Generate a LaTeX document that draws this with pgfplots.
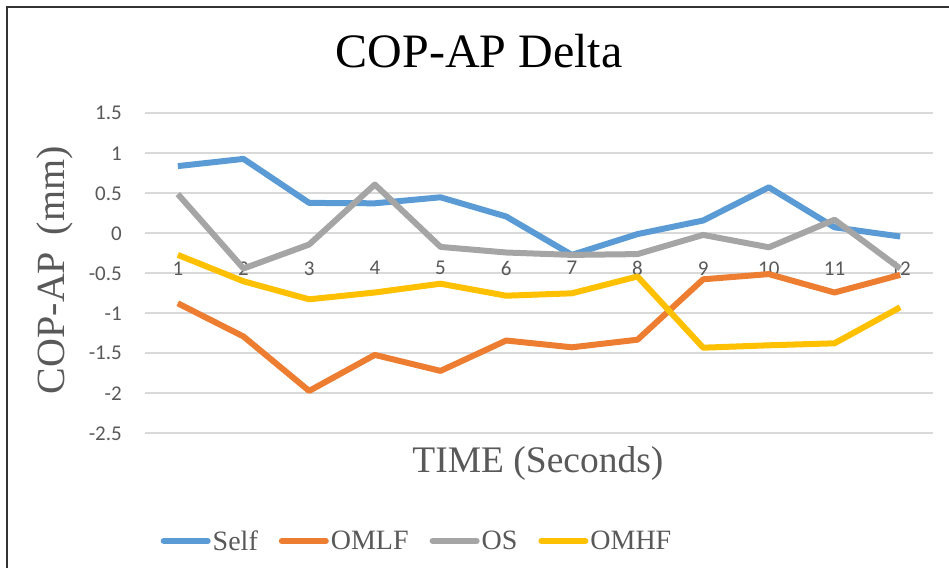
\documentclass[border=0pt]{standalone}
\usepackage{fontspec}
\setmainfont{Liberation Serif}
\newfontfamily\calib{Carlito}
\usepackage{pgfplots}
\pgfplotsset{compat=1.18}
\definecolor{cself}{HTML}{5B9BD5}
\definecolor{comlf}{HTML}{ED7D31}
\definecolor{cos}{HTML}{A5A5A5}
\definecolor{comhf}{HTML}{FFC000}
\definecolor{gridc}{HTML}{D9D9D9}
\definecolor{txt}{HTML}{595959}
\begin{document}
\begin{tikzpicture}
\path[use as bounding box] (0,0) rectangle (949pt,568pt);
\draw[black!80, line width=1.5pt] (7pt,0pt) -- (7pt,561pt) -- (949pt,561pt);
\begin{axis}[
  at={(145pt,134.7pt)}, anchor=south west,
  scale only axis, width=788pt, height=320pt,
  xmin=0.5, xmax=12.5, ymin=-2.5, ymax=1.5,
  enlargelimits=false,
  axis x line=middle, axis y line=left,
  x axis line style={draw=gridc, line width=1.8pt, -},
  y axis line style={draw=none},
  major tick length=0pt,
  xtick={1,...,12},
  ytick={-2.5,-2,-1.5,-1,-0.5,0,0.5,1,1.5},
  ymajorgrids, grid style={gridc, line width=1.8pt},
  /pgf/number format/assume math mode=true,
  yticklabel style={font=\calib\fontsize{21}{24}\selectfont, text=txt, inner sep=0pt, anchor=east, xshift=-23pt},
  xticklabel style={font=\calib\fontsize{21}{24}\selectfont, text=txt, inner sep=0pt, anchor=north, yshift=-28pt},
  title={COP-AP Delta},
  title style={at={(axis description cs:0.4239,1.176)}, anchor=center, font=\fontsize{48}{52}\selectfont, text=black},
  xlabel={TIME (Seconds)},
  xlabel style={at={(axis description cs:0.4987,-0.093)}, anchor=center, font=\fontsize{37.5}{42}\selectfont, text=txt},
  ylabel={COP-AP\, (mm)},
  ylabel style={at={(axis description cs:-0.114,0.51)}, anchor=center, rotate=0, font=\fontsize{40}{44}\selectfont, text=txt},
  legend columns=4,
  legend style={at={(axis description cs:0.3452,-0.3366)}, anchor=center, draw=none, fill=none,
    font=\fontsize{28}{32}\selectfont, text=txt,
    /tikz/every even column/.append style={column sep=19pt}},
  legend image code/.code={\draw[#1, line width=6pt, line cap=round] (0pt,0pt) -- (44pt,0pt);},
]
\addplot[cself, line width=6pt, line join=round, no markers] coordinates {(1,0.84) (2,0.93) (3,0.38) (4,0.375) (5,0.45) (6,0.21) (7,-0.27) (8,-0.01) (9,0.16) (10,0.575) (11,0.075) (12,-0.04)};
\addlegendentry{Self}
\addplot[comlf, line width=6pt, line join=round, no markers] coordinates {(1,-0.875) (2,-1.29) (3,-1.97) (4,-1.52) (5,-1.72) (6,-1.34) (7,-1.425) (8,-1.33) (9,-0.575) (10,-0.51) (11,-0.74) (12,-0.52)};
\addlegendentry{OMLF}
\addplot[cos, line width=6pt, line join=round, no markers] coordinates {(1,0.49) (2,-0.44) (3,-0.14) (4,0.61) (5,-0.17) (6,-0.24) (7,-0.27) (8,-0.26) (9,-0.02) (10,-0.175) (11,0.17) (12,-0.44)};
\addlegendentry{OS}
\addplot[comhf, line width=6pt, line join=round, no markers] coordinates {(1,-0.27) (2,-0.6) (3,-0.825) (4,-0.74) (5,-0.63) (6,-0.78) (7,-0.75) (8,-0.54) (9,-1.43) (10,-1.40) (11,-1.375) (12,-0.925)};
\addlegendentry{OMHF}
\end{axis}
\end{tikzpicture}
\end{document}
